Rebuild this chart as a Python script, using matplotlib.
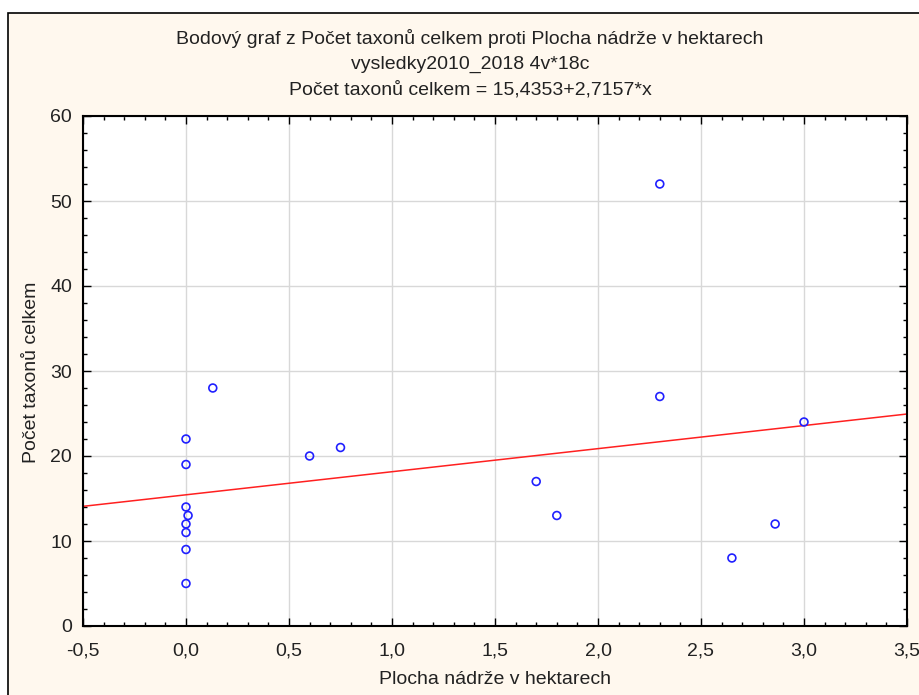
import matplotlib.pyplot as plt
from matplotlib.patches import Rectangle
from matplotlib.ticker import MultipleLocator, FuncFormatter

plt.rcParams['font.family'] = ['Liberation Sans', 'DejaVu Sans']

plocha = [2.3, 2.3, 0.13, 3.0, 0.6, 0.75, 1.7, 1.8, 2.65, 2.86,
          0.0, 0.0, 0.0, 0.01, 0.0, 0.0, 0.0, 0.0]
taxony = [52, 27, 28, 24, 20, 21, 17, 13, 8, 12,
          22, 19, 14, 13, 12, 11, 9, 5]
b0, b1 = 15.4353, 2.7157

W, H = 919, 695
fig = plt.figure(figsize=(W / 100, H / 100), dpi=100)
fig.patch.set_facecolor('white')
fig.patches.append(Rectangle((8 / W, -0.1), 1.2, 1 - 13 / H + 0.1,
                             transform=fig.transFigure, facecolor='#fff8ee',
                             edgecolor='black', linewidth=1.2, zorder=-5))

ax = fig.add_axes([83 / W, 1 - 626 / H, (907 - 83) / W, (626 - 116) / H], zorder=2)
ax.set_facecolor('white')
ax.set_xlim(-0.5, 3.5)
ax.set_ylim(0, 60)
ax.xaxis.set_major_locator(MultipleLocator(0.5))
ax.xaxis.set_minor_locator(MultipleLocator(0.1))
ax.yaxis.set_major_locator(MultipleLocator(10))
ax.yaxis.set_minor_locator(MultipleLocator(2))
ax.xaxis.set_major_formatter(FuncFormatter(lambda v, p: f'{v:.1f}'.replace('.', ',')))
ax.grid(True, which='major', color='#d8d8d8', linewidth=1)
ax.set_axisbelow(True)
ax.tick_params(which='both', direction='in', top=True, right=True,
               labelsize=14, colors='black', labelcolor='#222222')
ax.tick_params(which='major', length=6, width=1, pad=8)
ax.tick_params(axis='x', which='major', pad=12)
ax.tick_params(which='minor', length=3, width=1)
for s in ax.spines.values():
    s.set_linewidth(1.5)

xs = [-0.5, 3.5]
ax.plot(xs, [b0 + b1 * x for x in xs], color='#ff2020', linewidth=1.1, zorder=2)
ax.scatter(plocha, taxony, s=32, facecolors='none', edgecolors='#2020ff',
           linewidths=1.2, zorder=3)

fs = 14
fig.text(470 / W, 1 - 38 / H, 'Bodový graf z Počet taxonů celkem proti Plocha nádrže v hektarech',
         ha='center', va='center', fontsize=fs, color='#222222')
fig.text(470 / W, 1 - 64 / H, 'vysledky2010_2018 4v*18c',
         ha='center', va='center', fontsize=fs, color='#222222')
fig.text(470 / W, 1 - 90 / H, 'Počet taxonů celkem = 15,4353+2,7157*x',
         ha='center', va='center', fontsize=fs, color='#222222')
fig.text(32 / W, 1 - 372 / H, 'Počet taxonů celkem', rotation=90,
         ha='center', va='center', fontsize=fs, color='#222222')
fig.text(495 / W, 1 - 680 / H, 'Plocha nádrže v hektarech',
         ha='center', va='center', fontsize=fs, color='#222222')

fig.savefig('out.png', dpi=100)
